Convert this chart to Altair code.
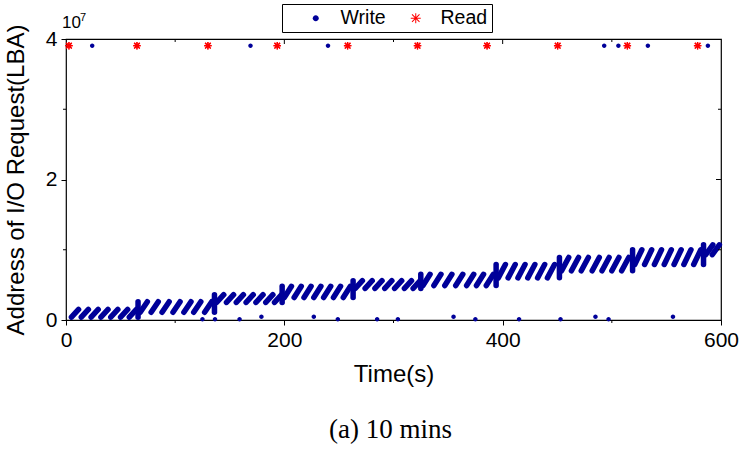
import altair as alt
import pandas as pd

# ---------------- data (LBA in units of 1e7, time in s) ----------------
# Write requests that form the rising sawtooth: one band per segment
seg_start = [3, 66, 136, 198, 263, 325, 394, 452, 519, 584]
seg_lo = [0.04, 0.11, 0.25, 0.32, 0.45, 0.49, 0.60, 0.70, 0.79, 0.93]
seg_hi = [0.15, 0.26, 0.36, 0.48, 0.56, 0.65, 0.79, 0.89, 1.00, 1.07]
stroke_t = [
    [5, 14, 23, 32, 41, 50, 58],
    [68, 78, 88, 98, 108, 117, 127],
    [138, 147, 156, 165, 174, 183, 191],
    [200, 209, 218, 227, 236, 245, 254],
    [265, 274, 283, 292, 301, 310, 318],
    [327, 337, 347, 357, 367, 376, 385],
    [396, 405, 414, 423, 432, 441],
    [454, 463, 472, 482, 491, 500, 509],
    [521, 530, 539, 548, 557, 566, 575],
    [586, 592],
]
stroke_dur = 6.5

# isolated write requests
write_top_t = [24, 169, 240, 493, 506, 533, 588]
write_top_y = [3.905, 3.905, 3.905, 3.905, 3.905, 3.905, 3.905]
write_bot_t = [125, 136.5, 159, 179, 227, 249, 285, 304, 355, 375, 415, 453, 485, 497, 556]
write_bot_y = [0.01, 0.01, 0.01, 0.045, 0.045, 0.01, 0.01, 0.01, 0.045, 0.01, 0.01, 0.01, 0.045, 0.01, 0.045]

# read requests
read_t = [2.7, 65, 130, 193.5, 258, 322, 385.7, 450.4, 514.2, 578.6]
read_y = [3.905, 3.905, 3.905, 3.905, 3.905, 3.905, 3.905, 3.905, 3.905, 3.905]

x_ticks = [0, 200, 400, 600]
y_ticks = [0, 2, 4]
x_minor = [100, 300, 500]
y_minor = [1, 3]

# ---------------- styling ----------------
W, H = 655, 281
BLUE = "#000099"
RED = "#FF0000"
SANS = "Liberation Sans"
SERIF = "Liberation Serif"


def star_path(w, L=1.0, D=0.75):
    s = 0.7071 * w
    p = f"M{-L},{-w}L{L},{-w}L{L},{w}L{-L},{w}Z"
    p += f"M{-w},{-L}L{w},{-L}L{w},{L}L{-w},{L}Z"
    p += f"M{-D+s},{-D-s}L{D+s},{D-s}L{D-s},{D+s}L{-D-s},{-D+s}Z"
    p += f"M{-D-s},{D-s}L{D-s},{-D-s}L{D+s},{-D+s}L{-D+s},{D+s}Z"
    return p


DOT = "M0.6,0A0.6,0.6,0,1,1,-0.6,0A0.6,0.6,0,1,1,0.6,0Z"
STAR_THIN = star_path(0.1)
STAR_BOLD = star_path(0.2)

# ---------------- tables ----------------
rows = []
for k, ts in enumerate(stroke_t):
    if k > 0:
        rows.append({"t": seg_start[k], "t2": seg_start[k], "lo": seg_lo[k - 1], "hi": seg_hi[k]})
    for t in ts:
        rows.append({"t": t, "t2": t + stroke_dur, "lo": seg_lo[k], "hi": seg_hi[k]})
strokes = pd.DataFrame(rows)

pts = pd.concat([
    pd.DataFrame({"t": write_top_t, "y": write_top_y, "type": "Write"}),
    pd.DataFrame({"t": write_bot_t, "y": write_bot_y, "type": "Write"}),
    pd.DataFrame({"t": read_t, "y": read_y, "type": "Read"}),
], ignore_index=True)
reads = pd.DataFrame({"t": read_t, "y": read_y})

xs = alt.Scale(domain=[0, 600], nice=False, zero=False)
ys = alt.Scale(domain=[0, 4], nice=False, zero=False)

x_axis = alt.Axis(
    values=x_ticks, format="d", tickSize=5, tickColor="black", tickWidth=1,
    domain=False, grid=False, labelFont=SANS, labelFontSize=21, labelColor="black",
    labelPadding=4, labelFlush=False, labelOverlap=False,
    title="Time(s)", titleFont=SANS, titleFontSize=24, titleFontWeight="normal",
    titleColor="black", titleX=W / 2, titleY=61, titleBaseline="alphabetic",
)
y_axis = alt.Axis(
    values=y_ticks, format="d", tickSize=5, tickColor="black", tickWidth=1,
    domain=False, grid=False, labelFont=SANS, labelFontSize=21, labelColor="black",
    labelPadding=4, labelFlush=False, labelOverlap=False,
    title="Address of I/O Request(LBA)", titleFont=SANS, titleFontSize=24,
    titleFontWeight="normal", titleColor="black", titleX=-43, titleY=H / 2,
    titleBaseline="alphabetic",
)

stroke_layer = alt.Chart(strokes).mark_rule(
    color=BLUE, strokeWidth=5.5, strokeCap="round"
).encode(
    x=alt.X("t:Q", scale=xs, axis=x_axis),
    x2="t2:Q",
    y=alt.Y("lo:Q", scale=ys, axis=y_axis),
    y2="hi:Q",
)

legend = alt.Legend(
    title=None, orient="none", legendX=216, legendY=-35, direction="horizontal",
    labelFont=SANS, labelFontSize=19.5, labelColor="black", symbolSize=100,
    symbolStrokeWidth=0, strokeColor="black", fillColor="white", padding=4,
    columnPadding=0, labelOffset=15, symbolOffset=20,
    labelExpr="datum.label == 'Read' ? datum.label + '\u2002' : datum.label",
)
point_layer = alt.Chart(pts).mark_point(filled=True, size=56, opacity=1).encode(
    x=alt.X("t:Q", scale=xs, axis=x_axis),
    y=alt.Y("y:Q", scale=ys, axis=y_axis),
    color=alt.Color("type:N", scale=alt.Scale(domain=["Write", "Read"], range=[BLUE, RED]), legend=legend),
    shape=alt.Shape("type:N", scale=alt.Scale(domain=["Write", "Read"], range=[DOT, STAR_THIN]), legend=legend),
)
bold_reads = alt.Chart(reads).mark_point(filled=True, size=56, opacity=1, color=RED, shape=STAR_BOLD).encode(
    x=alt.X("t:Q", scale=xs, axis=x_axis),
    y=alt.Y("y:Q", scale=ys, axis=y_axis),
)

# minor / mirrored ticks
xmin_df = pd.DataFrame({"v": x_minor})
xmaj_df = pd.DataFrame({"v": x_ticks[1:-1]})
ymin_df = pd.DataFrame({"v": y_minor})
ymaj_df = pd.DataFrame({"v": y_ticks[1:-1]})


def xtick(df, y0, y1):
    return alt.Chart(df).mark_rule(color="black", strokeWidth=1).encode(
        x=alt.X("v:Q", scale=xs, axis=x_axis), y=alt.value(y0), y2=alt.value(y1))


def ytick(df, x0, x1):
    return alt.Chart(df).mark_rule(color="black", strokeWidth=1).encode(
        y=alt.Y("v:Q", scale=ys, axis=y_axis), x=alt.value(x0), x2=alt.value(x1))


ticks = [
    xtick(xmin_df, H, H + 3),      # bottom minor, outward
    xtick(xmin_df, 0, 3),          # top minor, inward
    xtick(xmaj_df, 0, 5),          # top major, inward
    ytick(ymin_df, 0, -3),         # left minor, outward
    ytick(ymin_df, W, W - 3),      # right minor, inward
    ytick(ymaj_df, W, W - 5),      # right major, inward
]

texts = pd.DataFrame({"a": ["10"], "b": ["7"], "c": ["(a) 10 mins"]})
exp10 = alt.Chart(texts).mark_text(font=SANS, fontSize=17, align="left", baseline="alphabetic", color="black").encode(
    text="a:N", x=alt.value(-4), y=alt.value(-11))
exp7 = alt.Chart(texts).mark_text(font=SANS, fontSize=11, align="left", baseline="alphabetic", color="black").encode(
    text="b:N", x=alt.value(14), y=alt.value(-18))
caption = alt.Chart(texts).mark_text(font=SERIF, fontSize=27, align="center", baseline="alphabetic", color="black").encode(
    text="c:N", x=alt.value(324.5), y=alt.value(399))

chart = alt.layer(stroke_layer, *ticks, point_layer, bold_reads, exp10, exp7, caption).properties(
    width=W, height=H,
    autosize=alt.AutoSizeParams(type="none"),
    padding={"left": 66, "top": 39, "right": 21, "bottom": 130},
).configure(
    background="white",
    view=alt.ViewConfig(stroke="black", strokeWidth=1.2),
)

chart.save("out.html", embed_options={"renderer": "svg", "actions": False})
